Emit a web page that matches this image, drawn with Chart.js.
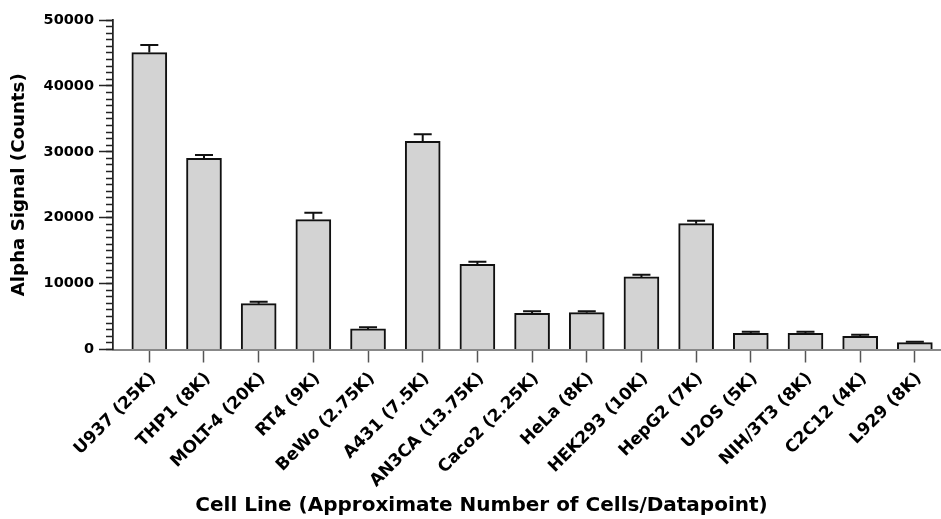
<!DOCTYPE html>
<html><head><meta charset="utf-8">
<script src="https://cdn.jsdelivr.net/npm/chart.js@4.4.1/dist/chart.umd.min.js"></script>
<style>html,body{margin:0;padding:0;background:#fff}#wrap{width:941px;height:519px;position:relative}</style>
</head><body><div id="wrap"><canvas id="c"></canvas></div>
<script>
const cellLines = ['U937 (25K)','THP1 (8K)','MOLT-4 (20K)','RT4 (9K)','BeWo (2.75K)','A431 (7.5K)','AN3CA (13.75K)','Caco2 (2.25K)','HeLa (8K)','HEK293 (10K)','HepG2 (7K)','U2OS (5K)','NIH/3T3 (8K)','C2C12 (4K)','L929 (8K)'];
const signal   = [45050, 29000, 6960, 19720, 3120, 31600, 12940, 5500, 5590, 11020, 19100, 2470, 2470, 2010, 1040];
const signalSD = [1150, 510, 290, 1050, 250, 1060, 390, 300, 230, 340, 450, 230, 230, 230, 140];
const yAxisTitle = 'Alpha Signal (Counts)';
const xAxisTitle = 'Cell Line (Approximate Number of Cells/Datapoint)';

const FAMILY = "'DejaVu Sans', sans-serif";
Chart.defaults.font.family = FAMILY;
Chart.defaults.font.weight = 'bold';
Chart.defaults.color = '#000';

const errorBars = {
  id: 'errorBars',
  afterDatasetsDraw(chart) {
    const meta = chart.getDatasetMeta(0);
    const y = chart.scales.y;
    const ctx = chart.ctx;
    ctx.save();
    ctx.strokeStyle = '#111';
    ctx.lineWidth = 2;
    meta.data.forEach((bar, i) => {
      const top = y.getPixelForValue(signal[i] + signalSD[i]);
      ctx.beginPath();
      ctx.moveTo(bar.x, bar.y);
      ctx.lineTo(bar.x, top);
      ctx.moveTo(bar.x - 9, top);
      ctx.lineTo(bar.x + 9, top);
      ctx.stroke();
    });
    ctx.restore();
  }
};

const xTitlePlugin = {
  id: 'xTitle',
  afterDraw(chart) {
    const ctx = chart.ctx;
    ctx.save();
    ctx.font = "bold 20px " + FAMILY;
    ctx.fillStyle = '#000';
    ctx.textAlign = 'center';
    ctx.textBaseline = 'middle';
    ctx.fillText(xAxisTitle, 481.5, 506);
    ctx.restore();
  }
};

new Chart(document.getElementById('c'), {
  type: 'bar',
  data: {
    datasets: [{
      data: signal.map((v, i) => ({ x: i, y: v })),
      backgroundColor: '#d3d3d3',
      borderColor: '#111',
      borderWidth: 2,
      barThickness: 35
    }]
  },
  options: {
    responsive: true,
    maintainAspectRatio: false,
    animation: false,
    layout: { padding: { left: 0, top: 20, right: 1, bottom: 0 } },
    plugins: { legend: { display: false }, tooltip: { enabled: false } },
    scales: {
      x: {
        type: 'linear', min: -0.664, max: 14.46, offset: false,
        grid: { drawOnChartArea: false, offset: false, tickLength: 13, tickColor: '#555', tickWidth: 1.5 },
        border: { display: true, color: '#888', width: 2 },
        ticks: {
          stepSize: 1, includeBounds: false, autoSkip: false, maxTicksLimit: 100,
          maxRotation: 45, minRotation: 45, padding: 6, labelOffset: 4, color: '#000',
          font: { size: 17, weight: 'bold' },
          callback: (v) => cellLines[v] !== undefined ? cellLines[v] : ''
        },
        afterFit(s) { s.height = 169.5; }
      },
      y: {
        type: 'linear', position: 'left', min: 0, max: 50000, weight: 1,
        ticks: { stepSize: 10000, maxTicksLimit: 100, padding: 5, color: '#000', font: { size: 14.5, weight: 'bold' }, callback: (v) => String(v) },
        grid: { drawOnChartArea: false, tickLength: 14, tickColor: '#222', tickWidth: 1.5 },
        border: { color: '#222', width: 1.5 },
        title: { display: true, text: yAxisTitle, color: '#000', font: { size: 18.2, weight: 'bold' }, padding: { top: 8, bottom: 0 } },
        afterFit(s) { s.width = 113; }
      },
      yMinor: {
        type: 'linear', position: 'left', min: 0, max: 50000, weight: 0,
        ticks: { stepSize: 1000, maxTicksLimit: 100, display: false },
        grid: { drawOnChartArea: false, tickLength: 7, tickColor: '#222', tickWidth: 1.5 },
        border: { color: '#222', width: 1.5 },
        afterFit(s) { s.width = 0; }
      }
    }
  },
  plugins: [errorBars, xTitlePlugin]
});
</script></body></html>
